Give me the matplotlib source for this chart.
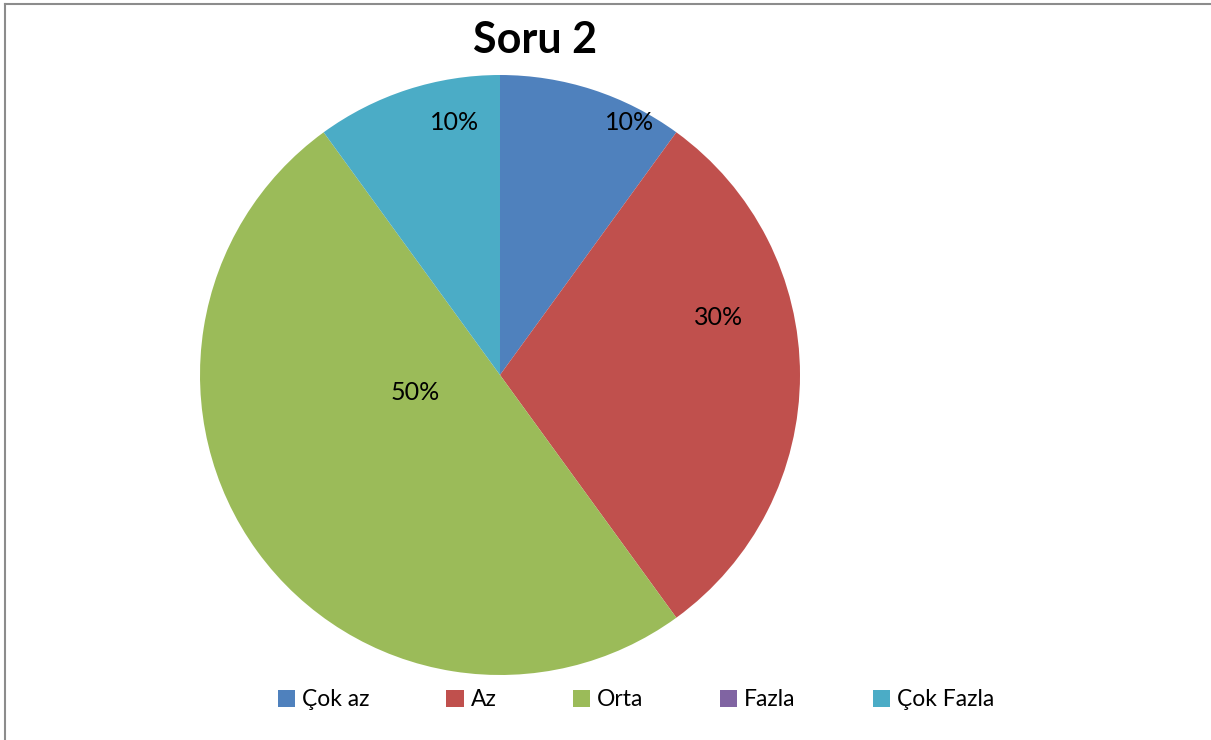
import matplotlib.pyplot as plt
from matplotlib.lines import Line2D
from matplotlib.patches import Patch

plt.rcParams['font.family'] = ['Lato', 'DejaVu Sans']

# data
categories = ['Çok az', 'Az', 'Orta', 'Fazla', 'Çok Fazla']
values = [10, 30, 50, 0, 10]
colors = ['#4F81BD', '#C0504D', '#9BBB59', '#8064A2', '#4BACC6']
# label spots (unit-radius coords), Excel "best fit"-ish
label_pos = [(0.433, 0.84), (0.727, 0.193), (-0.283, -0.06), None, (-0.15, 0.84)]

fig = plt.figure(figsize=(12.11, 7.40), dpi=100)
ax = fig.add_axes([200 / 1211, 65 / 740, 600 / 1211, 600 / 740])

wedges, _ = ax.pie(values, colors=colors, startangle=90, counterclock=False,
                   radius=1, wedgeprops=dict(linewidth=0))
ax.set_xlim(-1, 1)
ax.set_ylim(-1, 1)
ax.set_aspect('equal')

total = sum(values)
for v, pos in zip(values, label_pos):
    if v == 0 or pos is None:
        continue
    ax.text(pos[0], pos[1], f'{round(100 * v / total)}%', ha='center', va='center',
            fontsize=18, color='black')

fig.text(535 / 1211, 1 - 40 / 740, 'Soru 2', ha='center', va='center',
         fontsize=31, fontweight='bold')

handles = [Patch(facecolor=c, edgecolor='none') for c in colors]
fig.legend(handles, categories, loc='center', bbox_to_anchor=(636 / 1211, 1 - 700 / 740),
           ncol=5, frameon=False, fontsize=16.5, handlelength=0.75, handleheight=0.75,
           handletextpad=0.3, columnspacing=3.35)

# chart border (top and left visible)
fig.add_artist(Line2D([5 / 1211, 1], [1 - 4 / 740, 1 - 4 / 740], color='#8c8c8c', lw=1.5))
fig.add_artist(Line2D([5 / 1211, 5 / 1211], [0, 1 - 4 / 740], color='#8c8c8c', lw=1.5))

fig.savefig('out.png', dpi=100)
